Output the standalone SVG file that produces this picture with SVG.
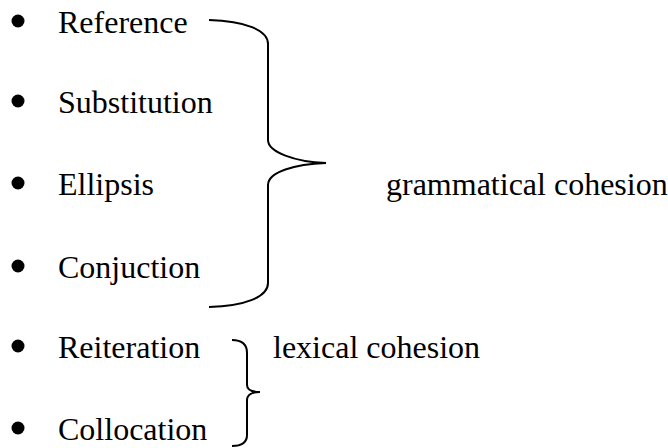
<svg xmlns="http://www.w3.org/2000/svg" width="668" height="448" viewBox="0 0 668 448">
<style>
text{font-family:'Liberation Serif','Times New Roman',Tinos,'DejaVu Serif',serif;font-size:32px;fill:#000}
.b{fill:#000}
.br{fill:none;stroke:#000;stroke-width:2}
</style>
<rect width="668" height="448" fill="#fff"/>
<g id="item-reference"><circle class="b" cx="18" cy="21" r="6.5"/><text x="58" y="33">Reference</text></g>
<g id="item-substitution"><circle class="b" cx="18" cy="101" r="6.5"/><text x="58" y="113">Substitution</text></g>
<g id="item-ellipsis"><circle class="b" cx="18" cy="183" r="6.5"/><text x="58" y="195">Ellipsis</text></g>
<g id="item-conjuction"><circle class="b" cx="18" cy="266" r="6.5"/><text x="58" y="278">Conjuction</text></g>
<g id="item-reiteration"><circle class="b" cx="18" cy="346" r="6.5"/><text x="58" y="358">Reiteration</text></g>
<g id="item-collocation"><circle class="b" cx="18" cy="428" r="6.5"/><text x="58" y="440">Collocation</text></g>
<g id="label-grammatical"><text x="386" y="195">grammatical cohesion</text></g>
<g id="label-lexical"><text x="273" y="358">lexical cohesion</text></g>
<g id="connectors">
<path class="br" d="M209 20 C245 21 268 30 268 44 L268 140 C268 152 295 162 326 163 C295 164 268 172 268 185 L268 283 C268 297 245 306 209 307"/>
<path class="br" d="M232 340 C243 340 247 345 247 353 L247 385 C247 390 252 392 260 392 C252 392 247 395 247 400 L247 435 C247 442 243 446 232 446"/>
</g>
</svg>
